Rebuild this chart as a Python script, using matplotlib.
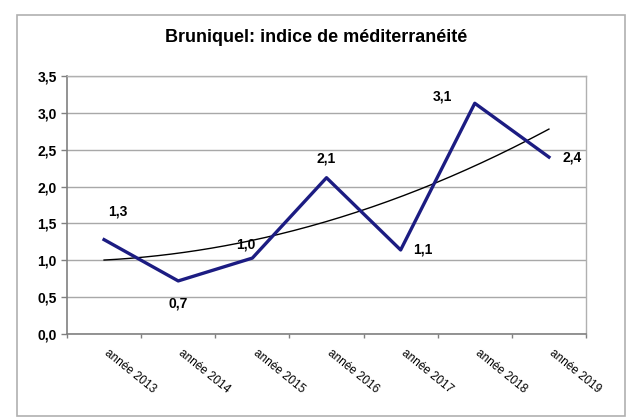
import matplotlib
matplotlib.use('Agg')
import matplotlib.pyplot as plt
import numpy as np
from matplotlib.patches import Rectangle

# data
years = ['année 2013', 'année 2014', 'année 2015', 'année 2016',
         'année 2017', 'année 2018', 'année 2019']
indice = [1.28, 0.72, 1.03, 2.12, 1.14, 3.13, 2.40]
labels = ['1,3', '0,7', '1,0', '2,1', '1,1', '3,1', '2,4']
# label offsets in points (dx, dy)
offsets = [(10, 20), (0, -16), (-5, 10), (0, 14), (16, 0), (-23, 5), (17, 0)]

plt.rcParams['font.family'] = ['Liberation Sans', 'DejaVu Sans']

fig = plt.figure(figsize=(6.32, 4.18), dpi=100)
ax = fig.add_axes([67 / 632, 1 - 334 / 418, 519 / 632, 258 / 418])

# outer frame of the chart
fig.patches.append(Rectangle((17 / 632, 2 / 418), 608 / 632, 401 / 418,
                             transform=fig.transFigure, fill=False,
                             edgecolor='#b0b0b0', linewidth=1.2))

x = np.arange(len(years))
ax.plot(x, indice, color='#1c1c82', linewidth=2.4, zorder=3)

# polynomial (order 2) trend line
coef = np.polyfit(x, indice, 2)
xs = np.linspace(x[0], x[-1], 200)
ax.plot(xs, np.polyval(coef, xs), color='black', linewidth=1.0, zorder=2)

for xi, yi, lab, off in zip(x, indice, labels, offsets):
    ax.annotate(lab, (xi, yi), xytext=off, textcoords='offset points',
                ha='center', va='center', fontsize=10, fontweight='bold')

ax.set_xlim(-0.5, len(years) - 0.5)
ax.set_ylim(0, 3.5)
yt = np.arange(0, 3.51, 0.5)
ax.set_yticks(yt)
ax.set_yticklabels([('%.1f' % v).replace('.', ',') for v in yt],
                   fontsize=10, fontweight='bold')
ax.set_xticks(np.arange(-0.5, len(years)))
ax.set_xticklabels([])
for xi, name in zip(x, years):
    ax.text(xi + 0.08, -0.18, name, rotation=-39, rotation_mode='anchor',
            ha='left', va='top', fontsize=8.5, clip_on=False)

ax.yaxis.grid(True, color='#a8a8a8', linewidth=1.0)
ax.set_axisbelow(True)
ax.tick_params(axis='y', length=4, color='#808080', width=1.0)
ax.tick_params(axis='x', length=3, color='#808080', width=1.0)
for s in ['left', 'bottom']:
    ax.spines[s].set_color('#808080')
    ax.spines[s].set_linewidth(1.2)
for s in ['top', 'right']:
    ax.spines[s].set_color('#b0b0b0')
    ax.spines[s].set_linewidth(1.0)

fig.text(0.5, 1 - 38 / 418, 'Bruniquel: indice de méditerranéité',
         ha='center', va='center', fontsize=13, fontweight='bold')

fig.savefig('out.png', dpi=100)
